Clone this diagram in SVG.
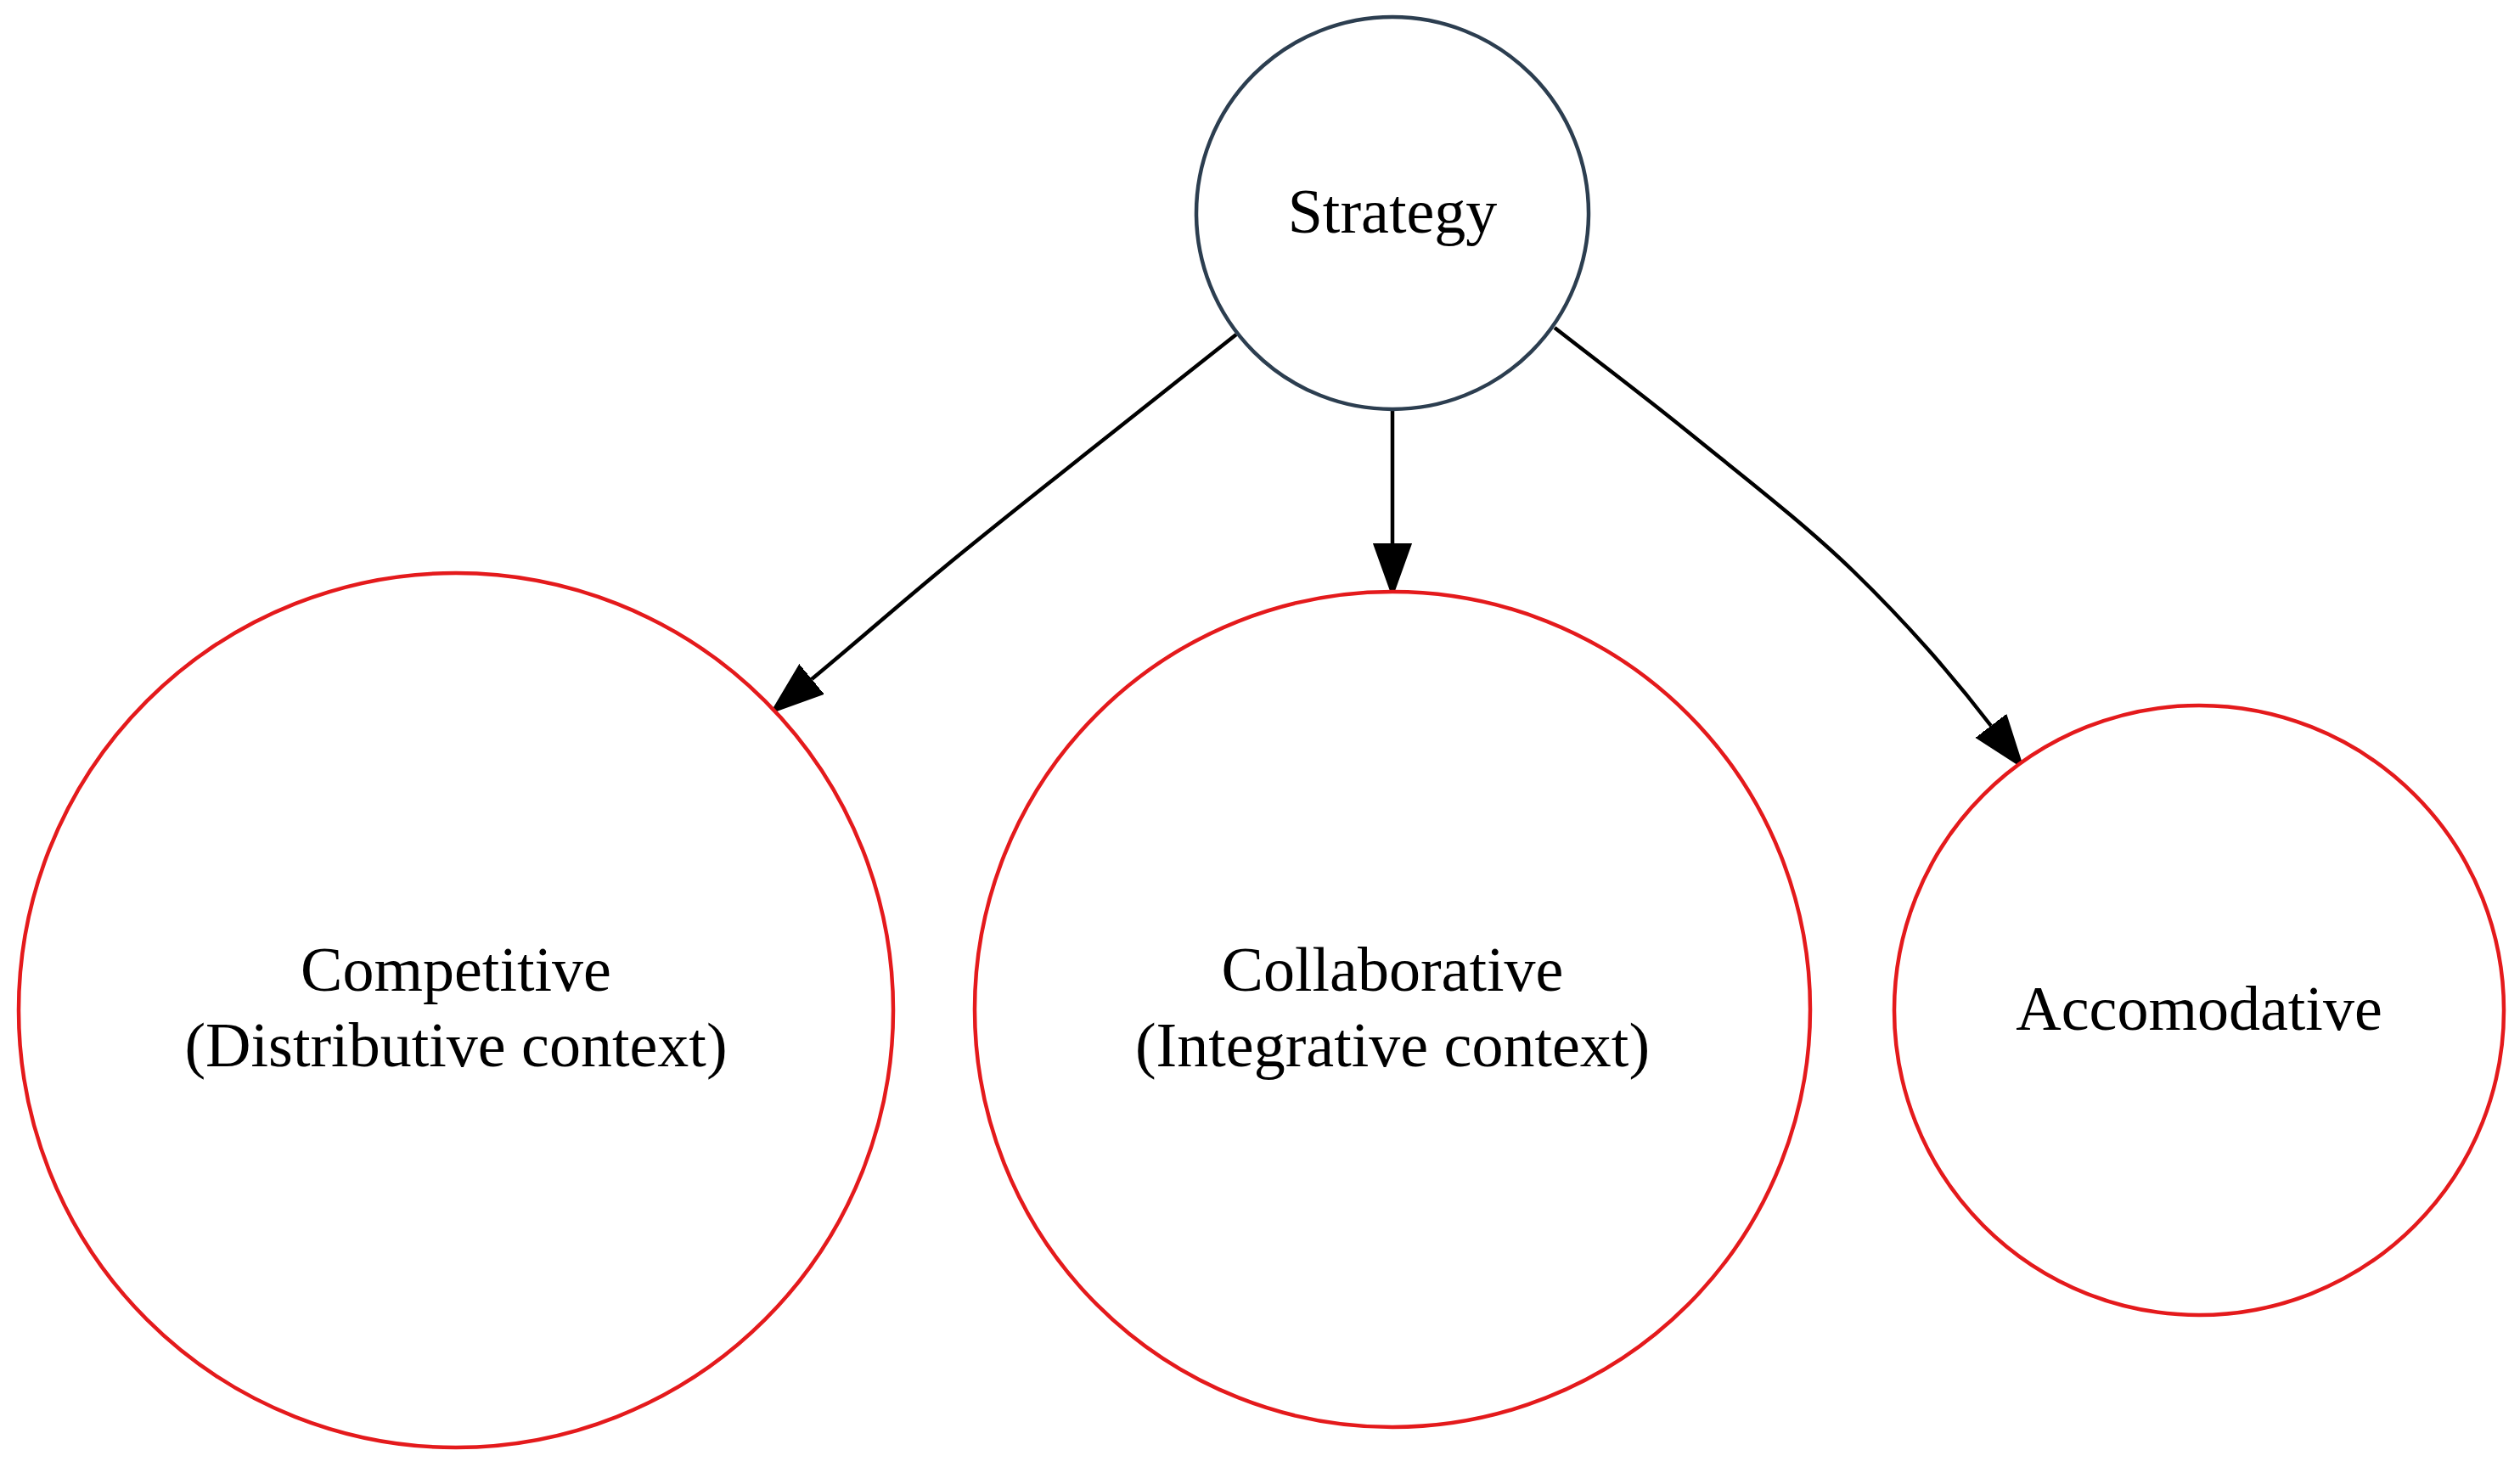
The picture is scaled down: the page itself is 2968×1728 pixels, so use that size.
<svg xmlns="http://www.w3.org/2000/svg" width="2968" height="1728" viewBox="0 0 2968 1728">
<style>
.lbl{font-family:"Liberation Serif","Times New Roman",serif;font-size:74px;fill:#000;text-anchor:middle}
.red{fill:#fff;stroke:#e41a1c;stroke-width:4.5}
.dark{fill:#fff;stroke:#2c3e50;stroke-width:4.5}
.edge{fill:none;stroke:#000;stroke-width:4.5}
</style>
<defs>
<marker id="arr" markerUnits="userSpaceOnUse" markerWidth="66" markerHeight="50" viewBox="0 -25 66 50" refX="0" refY="0" orient="auto">
<path d="M0,-21.5 L60,0 L0,21.5 z" fill="#000" stroke="#000" stroke-width="3"/>
</marker>
</defs>
<rect width="2968" height="1728" fill="#fff"/>
<g id="connectors">
<path class="edge" marker-end="url(#arr)" d="M1456,394 C1391.7,445 1320.7,501 1263,547 C1205.3,593 1161.2,627.8 1110,670 C1058.8,712.2 1006,758.7 956,800"/>
<path class="edge" marker-end="url(#arr)" d="M1640,483 L1640,640"/>
<path class="edge" marker-end="url(#arr)" d="M1831,386 C1884.3,427.7 1932.3,463.2 1991,511 C2049.7,558.8 2124,615.7 2183,673 C2242,730.3 2298.3,794 2345,855"/>
</g>
<g id="node-strategy">
<circle class="dark" cx="1640" cy="251" r="231"/>
<text class="lbl" x="1640" y="274">Strategy</text>
</g>
<g id="node-competitive">
<circle class="red" cx="537" cy="1190" r="515"/>
<text class="lbl" x="537" y="1167">Competitive</text>
<text class="lbl" x="537" y="1256">(Distributive context)</text>
</g>
<g id="node-collaborative">
<circle class="red" cx="1640" cy="1189" r="492"/>
<text class="lbl" x="1640" y="1167">Collaborative</text>
<text class="lbl" x="1640" y="1256">(Integrative context)</text>
</g>
<g id="node-accomodative">
<circle class="red" cx="2590" cy="1190" r="359"/>
<text class="lbl" x="2590" y="1213">Accomodative</text>
</g>
</svg>
